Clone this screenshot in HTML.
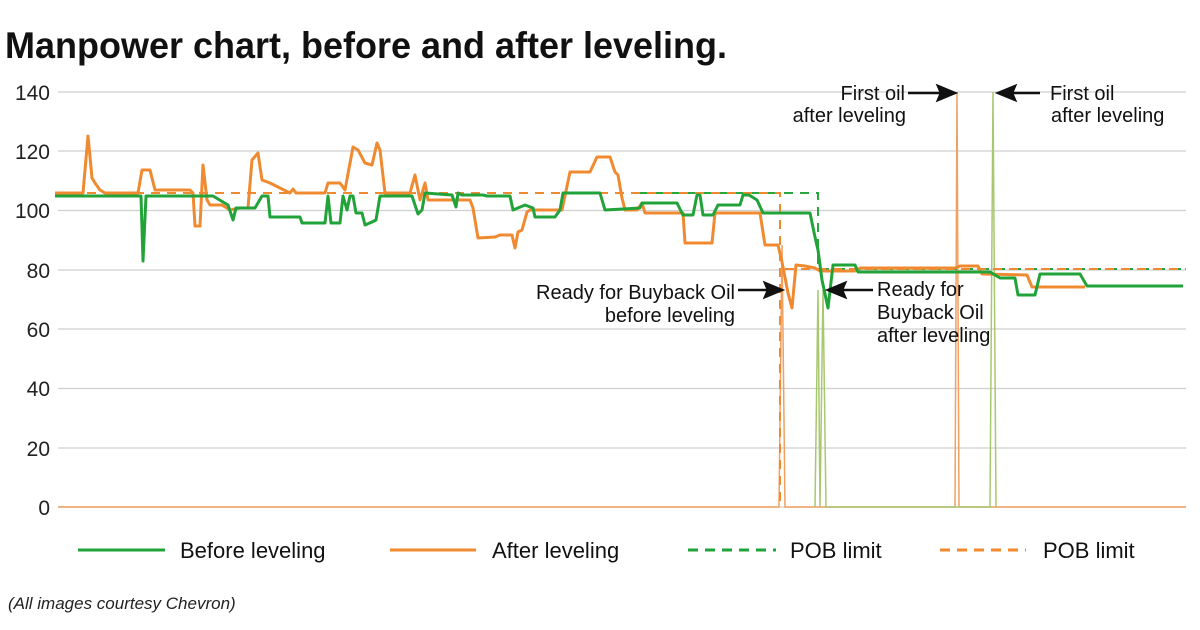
<!DOCTYPE html>
<html><head><meta charset="utf-8"><style>
html,body{margin:0;padding:0;background:#fff;}
svg{display:block;font-family:"Liberation Sans",Arial,sans-serif;}
</style></head><body>
<svg width="1200" height="630" viewBox="0 0 1200 630" xmlns="http://www.w3.org/2000/svg">
<text x="5" y="58" font-size="37" font-weight="bold" textLength="722" lengthAdjust="spacingAndGlyphs" fill="#111">Manpower chart, before and after leveling.</text>
<g stroke="#cfcfcf" stroke-width="1.2">
<line x1="58" y1="92" x2="1186" y2="92"/><line x1="58" y1="151" x2="1186" y2="151"/>
<line x1="58" y1="210.5" x2="1186" y2="210.5"/><line x1="58" y1="270" x2="1186" y2="270"/>
<line x1="58" y1="329" x2="1186" y2="329"/><line x1="58" y1="388.5" x2="1186" y2="388.5"/>
<line x1="58" y1="448" x2="1186" y2="448"/><line x1="58" y1="507" x2="1186" y2="507"/>
</g>
<g font-size="21" fill="#222" text-anchor="end">
<text x="50" y="100">140</text><text x="50" y="159">120</text><text x="50" y="218">100</text>
<text x="50" y="278">80</text><text x="50" y="337">60</text><text x="50" y="396">40</text>
<text x="50" y="456">20</text><text x="50" y="515">0</text>
</g>
<!-- thin spikes -->
<g fill="none" stroke-width="1.5">
<polyline stroke="#f0a060" points="58,507 779,507 782,245 785,507 955,507 957,92 959,507 1186,507"/>
<polyline stroke="#a8c870" points="815,507 818,290 820,507 823,290 826,507 990,507 993,92 996,507"/>
</g>
<!-- POB dashed -->
<g fill="none" stroke-width="2" stroke-dasharray="9,7">
<polyline stroke="#2aa640" points="640,193 818,193 818,269 1186,269"/>
<polyline stroke="#f08a30" points="55,193 780,193 780,507"/>
<polyline stroke="#f08a30" points="785,269 1186,269"/>
</g>
<!-- After leveling -->
<polyline fill="none" stroke="#f08a30" stroke-width="3" stroke-linejoin="round" points="55,193 83,193 88,136 92,178 95,183 100,190 105,193 138,193 142,170 150,170 155,190 190,190 193,193 195,226 200,226 203,165 207,200 210,205 222,205 230,210 240,208 248,208 252,160 258,153 262,180 270,183 280,188 290,193 293,189 296,193 325,193 328,183 340,183 345,190 353,147 358,150 365,163 372,165 377,143 380,150 385,193 410,193 415,175 420,200 425,183 428,200 470,200 473,208 478,238 495,237 500,235 512,235 515,248 518,232 522,230 527,212 530,210 562,210 570,172 590,172 597,157 610,157 615,172 618,175 622,198 625,210 637,210 642,203 645,213 683,213 685,243 712,243 715,213 760,213 765,245 778,245 782,262 788,293 792,308 796,265 805,266 815,268 820,271 855,271 860,268 955,268 960,266 978,266 982,274 1027,275 1032,287 1085,287"/>
<!-- Before leveling -->
<polyline fill="none" stroke="#22a33a" stroke-width="3" stroke-linejoin="round" points="55,196 141,196 143,261 146,196 213,196 228,205 233,220 236,208 255,208 262,196 268,196 270,217 300,217 302,223 325,223 328,196 331,223 340,223 343,196 347,210 350,196 353,196 356,213 362,213 365,225 372,222 376,220 380,196 412,196 418,214 422,210 425,193 452,195 456,207 458,193 462,195 483,195 487,196 510,196 513,210 525,205 533,208 535,217 555,217 560,210 563,193 600,193 605,210 640,208 642,203 677,203 683,215 693,215 697,195 700,195 703,215 713,215 718,205 740,205 743,195 749,195 757,200 763,213 810,213 815,237 818,250 822,280 828,308 833,265 855,265 858,272 990,272 1000,278 1015,278 1018,295 1035,295 1040,274 1080,274 1087,286 1183,286"/>
<!-- annotations -->
<g font-size="20" fill="#111">
<text x="905" y="100" text-anchor="end">First oil</text>
<text x="906" y="122" text-anchor="end">after leveling</text>
<text x="1050" y="100">First oil</text>
<text x="1051" y="122">after leveling</text>
<text x="735" y="299" text-anchor="end">Ready for Buyback Oil</text>
<text x="735" y="322" text-anchor="end">before leveling</text>
<text x="877" y="296">Ready for</text>
<text x="877" y="319">Buyback Oil</text>
<text x="877" y="342">after leveling</text>
</g>
<g stroke="#111" stroke-width="2.5" fill="#111">
<line x1="908" y1="93" x2="942" y2="93"/><polygon points="955,93 938,86 941,93 938,100"/>
<line x1="1040" y1="93" x2="1008" y2="93"/><polygon points="998,93 1015,86 1012,93 1015,100"/>
<line x1="738" y1="290" x2="770" y2="290"/><polygon points="782,290 765,283 768,290 765,297"/>
<line x1="873" y1="290" x2="840" y2="290"/><polygon points="828,290 845,283 842,290 845,297"/>
</g>
<!-- legend -->
<g stroke-width="3">
<line x1="78" y1="550" x2="165" y2="550" stroke="#22a33a"/>
<line x1="390" y1="550" x2="476" y2="550" stroke="#f08a30"/>
<line x1="688" y1="550" x2="776" y2="550" stroke="#22a33a" stroke-dasharray="10,7"/>
<line x1="940" y1="550" x2="1026" y2="550" stroke="#f08a30" stroke-dasharray="10,7"/>
</g>
<g font-size="22" fill="#111">
<text x="180" y="558">Before leveling</text>
<text x="492" y="558">After leveling</text>
<text x="790" y="558">POB limit</text>
<text x="1043" y="558">POB limit</text>
</g>
<text x="8" y="609" font-size="17" font-style="italic" fill="#222">(All images courtesy Chevron)</text>
</svg>
</body></html>
